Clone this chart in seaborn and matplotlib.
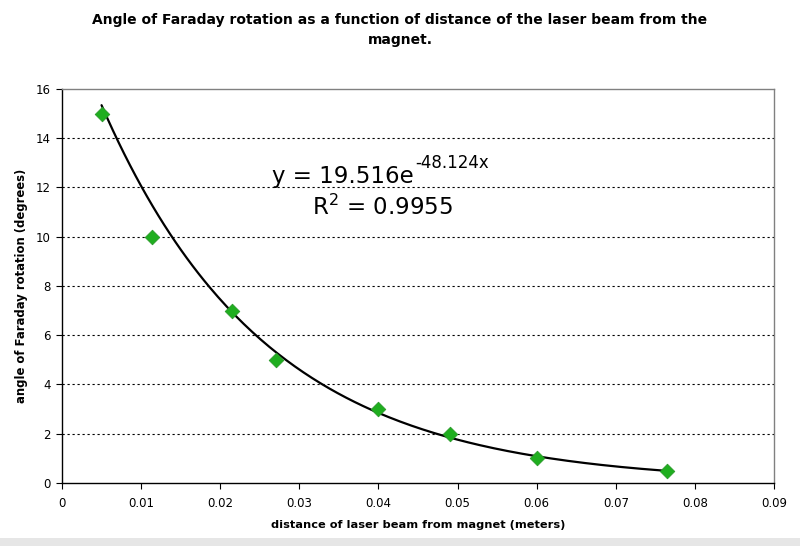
import numpy as np
import pandas as pd
import matplotlib
matplotlib.use("Agg")
import matplotlib.pyplot as plt
from matplotlib.patches import Rectangle
import seaborn as sns

# Data
distance_m = [0.005, 0.0114, 0.0215, 0.027, 0.040, 0.049, 0.060, 0.0765]
angle_deg = [15, 10, 7, 5, 3, 2, 1, 0.5]
fit_a = 19.516
fit_b = -48.124
fit_r2 = 0.9955
x_ticks = [0, 0.01, 0.02, 0.03, 0.04, 0.05, 0.06, 0.07, 0.08, 0.09]
x_tick_labels = ["0", "0.01", "0.02", "0.03", "0.04", "0.05", "0.06", "0.07", "0.08", "0.09"]
y_ticks = [0, 2, 4, 6, 8, 10, 12, 14, 16]

sns.set_style("white")
plt.rcParams['font.family'] = ['DejaVu Sans']
plt.rcParams.update({"text.color": "black", "axes.labelcolor": "black",
                     "xtick.color": "black", "ytick.color": "black"})

df = pd.DataFrame({"x": distance_m, "y": angle_deg})
xs = np.linspace(min(distance_m), max(distance_m), 200)
fit_df = pd.DataFrame({"x": xs, "y": fit_a * np.exp(fit_b * xs)})

fig = plt.figure(figsize=(8, 5.46), dpi=100)
ax = fig.add_axes([0.0775, 0.1154, 0.89, 0.7216])

for t in y_ticks[1:-1]:
    ax.axhline(t, color="black", lw=0.8, ls=(0, (2, 2.5)), zorder=0)

sns.lineplot(data=fit_df, x="x", y="y", ax=ax, color="black", lw=1.6, zorder=2)
sns.scatterplot(data=df, x="x", y="y", ax=ax, marker="D", s=55, color="#1fae1f",
                edgecolor="#2a9a2a", linewidth=0.6, zorder=3)

ax.set_xlim(0, 0.09)
ax.set_ylim(0, 16)
ax.set_xticks(x_ticks)
ax.set_xticklabels(x_tick_labels)
ax.set_yticks(y_ticks)
ax.tick_params(axis="both", direction="out", length=4, width=0.8, labelsize=8.5,
               colors="black", bottom=True, left=True)
ax.tick_params(axis="x", pad=6)
ax.tick_params(axis="y", pad=4)

for side in ["left", "bottom"]:
    ax.spines[side].set_color("black")
    ax.spines[side].set_linewidth(1.0)
for side in ["top", "right"]:
    ax.spines[side].set_color("#808080")
    ax.spines[side].set_linewidth(1.0)

ax.set_xlabel("distance of laser beam from magnet (meters)", fontsize=8.2,
              fontweight="bold", labelpad=7)
ax.set_ylabel("angle of Faraday rotation (degrees)", fontsize=8.4,
              fontweight="bold", labelpad=6)

fig.text(0.5, 0.945, "Angle of Faraday rotation as a function of distance of the laser beam from the\nmagnet.",
         ha="center", va="center", fontsize=10, fontweight="bold", linespacing=1.6)

eq = ax.text(0.0265, 12.18, "y = %.3fe" % fit_a, fontsize=16.5, ha="left", va="baseline")
ax.annotate("%.3fx" % fit_b, xy=(1.01, 12.79), xycoords=(eq, "data"), fontsize=12,
            ha="left", va="baseline")
ax.text(0.0316, 10.88, r"R$^{\mathdefault{2}}$ = %.4f" % fit_r2, fontsize=16.5,
        ha="left", va="baseline")

fig.patches.append(Rectangle((0, 0), 1, 8 / 546, transform=fig.transFigure,
                             facecolor="#e6e6e6", edgecolor="none"))

fig.savefig("out.png", dpi=100)
